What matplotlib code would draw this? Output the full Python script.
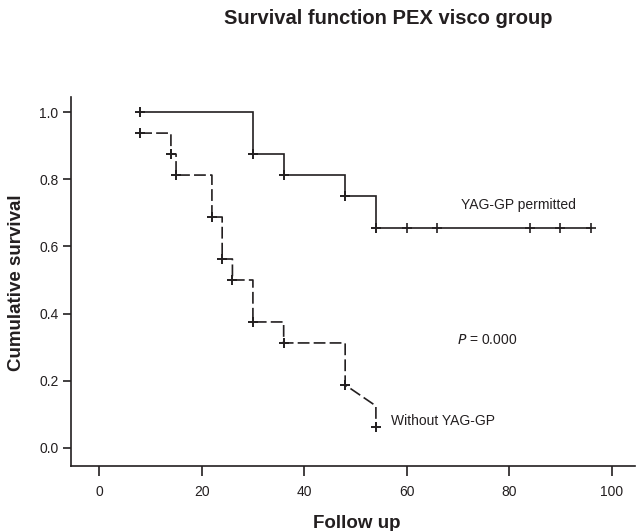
import numpy as np
import matplotlib
matplotlib.use("Agg")
import matplotlib.pyplot as plt

plt.rcParams['font.family'] = ['Liberation Sans', 'DejaVu Sans']
plt.rcParams['lines.scale_dashes'] = False

# Kaplan-Meier data
perm_t = [8, 30, 36, 48, 54]
perm_s = [1.0, 0.875, 0.8125, 0.75, 0.656]
perm_cens_t = [60, 66, 84, 90, 96]

without_t = [8, 14, 15, 22, 24, 26, 30, 36, 48, 54]
without_s = [0.9375, 0.875, 0.8125, 0.6875, 0.5625, 0.5, 0.375, 0.3125, 0.1875, 0.0625]
without_mid = 0.125  # last step is drawn as a slope down to this value

xticks = [0, 20, 40, 60, 80, 100]
yticks = [0.0, 0.2, 0.4, 0.6, 0.8, 1.0]

ink = '#231f20'


def step_path(t, s, end_t=None):
    xs, ys = [t[0]], [s[0]]
    for i in range(1, len(t)):
        xs += [t[i], t[i]]
        ys += [s[i - 1], s[i]]
    if end_t is not None:
        xs.append(end_t)
        ys.append(s[-1])
    return xs, ys


fig = plt.figure(figsize=(6.38, 5.31), dpi=100)
ax = fig.add_axes([71 / 638, 1 - 466 / 531, 564 / 638, 369 / 531])

# YAG-GP permitted (solid)
px, py = step_path(perm_t, perm_s, end_t=perm_cens_t[-1])
ax.plot(px, py, color=ink, lw=1.2, solid_joinstyle='miter')
ax.plot(perm_t, perm_s, ls='none', marker='+', ms=7, mew=1.4, color=ink)
ax.plot(perm_cens_t, [perm_s[-1]] * len(perm_cens_t), ls='none', marker='+',
        ms=7, mew=1.2, color=ink)

# Without YAG-GP (dashed); last step slopes down before the final drop
wx, wy = step_path(without_t, without_s)
wy[-2] = without_mid
ax.plot(wx, wy, color=ink, lw=1.2, dashes=(8.5, 3))
ax.plot(without_t, without_s, ls='none', marker='+', ms=7, mew=1.4, color=ink)

ax.set_xlim(-5.5, 104.56)
ax.set_ylim(-0.054, 1.045)
ax.set_xticks(xticks)
ax.set_yticks(yticks)
ax.set_xticklabels([str(v) for v in xticks])
ax.set_yticklabels([f'{v:.1f}' for v in yticks])

for side in ['top', 'right']:
    ax.spines[side].set_visible(False)
for side in ['left', 'bottom']:
    ax.spines[side].set_linewidth(1.2)
    ax.spines[side].set_color(ink)
ax.tick_params(axis='x', direction='out', length=7, width=1.2, pad=7,
               labelsize=10, colors=ink)
ax.tick_params(axis='y', direction='out', length=6, width=1.2, pad=3,
               labelsize=10, colors=ink)

ax.text(70.7, 0.722, 'YAG-GP permitted', ha='left', va='center', fontsize=10, color=ink)
ax.text(69.9, 0.321, r'$\it{P}$ = 0.000', ha='left', va='center', fontsize=10, color=ink)
ax.text(56.9, 0.079, 'Without YAG-GP', ha='left', va='center', fontsize=10, color=ink)

fig.text(224 / 638, 1 - 19 / 531, 'Survival function PEX visco group', ha='left',
         va='center', fontsize=14.5, fontweight='bold', color=ink)
fig.text(357 / 638, 1 - 523 / 531, 'Follow up', ha='center', va='center',
         fontsize=13.5, fontweight='bold', color=ink)
fig.text(17 / 638, 1 - 283 / 531, 'Cumulative survival', ha='center', va='center',
         rotation=90, fontsize=13.5, fontweight='bold', color=ink)

fig.savefig('out.png', dpi=100)
